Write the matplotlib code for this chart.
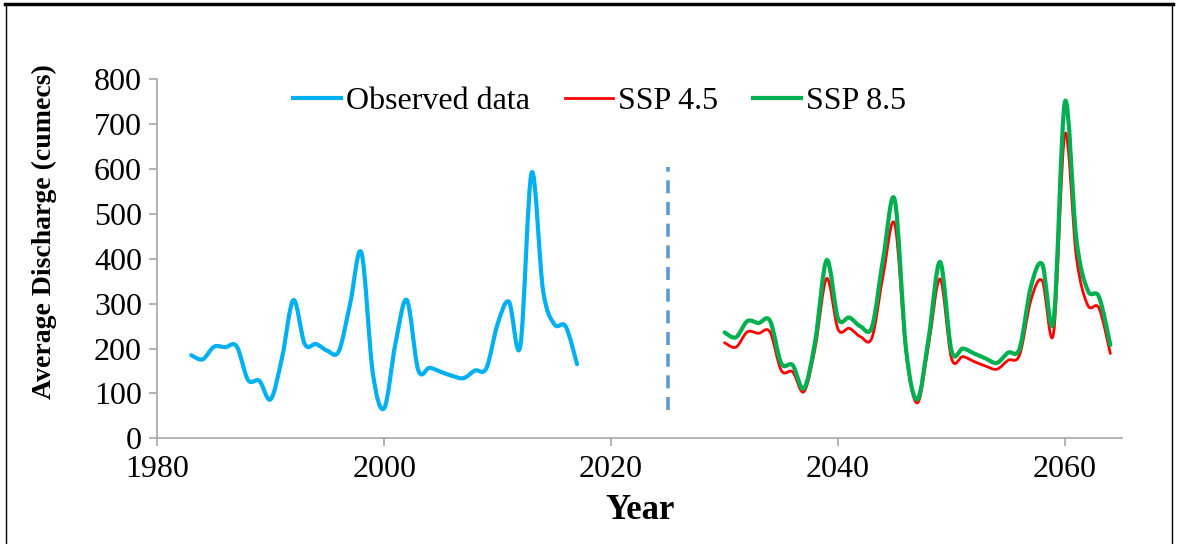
import numpy as np
import matplotlib
matplotlib.use("Agg")
import matplotlib.pyplot as plt
from matplotlib.path import Path
from matplotlib.patches import PathPatch
from matplotlib.lines import Line2D

plt.rcParams["font.family"] = ["Liberation Serif", "DejaVu Serif"]

obs_years = list(range(1983, 2018))
obs_vals = [185, 176, 204, 203, 205, 130, 128, 87, 180, 308,
            210, 210, 195, 194, 300, 413, 145, 67, 212, 308,
            152, 157, 148, 139, 134, 151, 156, 255, 304, 206,
            592, 330, 254, 249, 165]

ssp_years = list(range(2030, 2065))
ssp45 = [213, 203, 237, 234, 237, 151, 148, 104, 204, 356,
         243, 245, 226, 225, 367, 477, 190, 79, 211, 355,
         178, 182, 171, 161, 154, 174, 186, 308, 351, 235,
         678, 405, 297, 290, 189]
ssp85 = [236, 225, 261, 257, 262, 167, 163, 111, 219, 397,
         267, 269, 249, 249, 404, 531, 197, 87, 226, 393,
         195, 200, 189, 178, 168, 191, 200, 338, 388, 263,
         750, 445, 330, 315, 208]

divider_year = 2025
divider_range = [63, 605]


def smooth_path(xs, ys):
    # Excel-style smoothed line: cubic Bezier segments through every point
    x = np.asarray(xs, float)
    y = np.asarray(ys, float)
    px = np.concatenate([[x[0]], x, [x[-1]]])
    py = np.concatenate([[y[0]], y, [y[-1]]])
    verts = [(x[0], y[0])]
    codes = [Path.MOVETO]
    for i in range(1, len(x)):
        c1 = (px[i] + (px[i + 1] - px[i - 1]) / 6, py[i] + (py[i + 1] - py[i - 1]) / 6)
        c2 = (px[i + 1] - (px[i + 2] - px[i]) / 6, py[i + 1] - (py[i + 2] - py[i]) / 6)
        verts += [c1, c2, (x[i], y[i])]
        codes += [Path.CURVE4] * 3
    return Path(verts, codes)


fig = plt.figure(figsize=(11.78, 5.44), dpi=100)
ax = fig.add_axes([0.1335, 0.1943, 0.8187, 0.66])

series = [
    (obs_years, obs_vals, "#00B0F0", 3.0),
    (ssp_years, ssp45, "#FF0000", 2.0),
    (ssp_years, ssp85, "#00B050", 3.0),
]
for xs, ys, col, lw in series:
    ax.add_patch(PathPatch(smooth_path(xs, ys), facecolor="none", edgecolor=col,
                           lw=lw, joinstyle="round", capstyle="round"))

ax.plot([divider_year, divider_year], divider_range, color="#5B9BD5", lw=2.6,
        linestyle=(0, (3.6, 2.4)))

ax.set_xlim(1980, 2065)
ax.set_ylim(0, 800)
ax.set_xticks([1980, 2000, 2020, 2040, 2060])
ax.set_yticks(range(0, 801, 100))
for s in ["top", "right"]:
    ax.spines[s].set_visible(False)
for s in ["left", "bottom"]:
    ax.spines[s].set_color("#A6A6A6")
    ax.spines[s].set_linewidth(1.2)
ax.tick_params(axis="both", direction="out", length=6, width=1.2, color="#A6A6A6",
               labelsize=23, labelcolor="black")
ax.tick_params(axis="x", pad=6)
ax.tick_params(axis="y", pad=5)

fig.text(0.038, 0.575, "Average Discharge (cumecs)", rotation=90, ha="center",
         va="center", fontsize=20, fontweight="bold")
fig.text(0.543, 0.062, "Year", ha="center", va="center", fontsize=25, fontweight="bold")

handles = [Line2D([], [], color=c, lw=lw) for _, _, c, lw in series]
fig.legend(handles, ["Observed data", "SSP 4.5", "SSP 8.5"], loc="center",
           bbox_to_anchor=(0.509, 0.814), ncol=3, frameon=False, fontsize=23,
           handlelength=1.5, handletextpad=0.15, columnspacing=1.1)

# outer frame around the figure
fig.add_artist(Line2D([0.004, 0.996], [0.993, 0.993], transform=fig.transFigure,
                      color="black", lw=2.5))
fig.add_artist(Line2D([0.005, 0.005], [0.0, 0.993], transform=fig.transFigure,
                      color="black", lw=1))
fig.add_artist(Line2D([0.995, 0.995], [0.0, 0.993], transform=fig.transFigure,
                      color="black", lw=1))

fig.savefig("out.png", dpi=100)
